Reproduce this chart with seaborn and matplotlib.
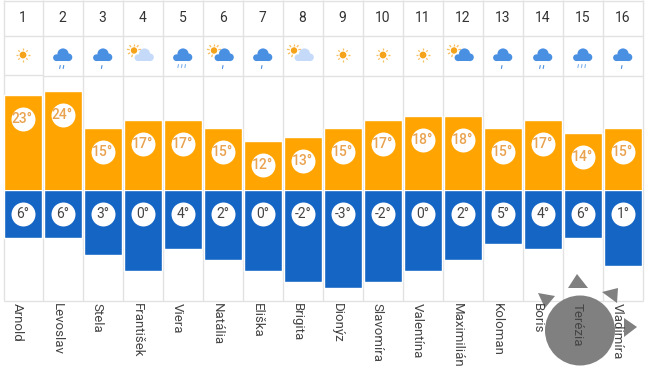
import numpy as np
import pandas as pd
import seaborn as sns
import matplotlib.pyplot as plt
from matplotlib.patches import Circle, Polygon, Rectangle
from matplotlib.transforms import ScaledTranslation

sns.set_theme(style="white")
plt.rcParams['font.family'] = ['Roboto', 'DejaVu Sans']

days = list(range(1, 17))
names = ["Arnold", "Levoslav", "Stela", "František", "Viera", "Natália", "Eliška", "Brigita",
         "Dionýz", "Slavomíra", "Valentína", "Maximilián", "Koloman", "Boris", "Terézia", "Vladimíra"]
highs = [23, 24, 15, 17, 17, 15, 12, 13, 15, 17, 18, 18, 15, 17, 14, 15]
lows = [6, 6, 3, 0, 4, 2, 0, -2, -3, -2, 0, 2, 5, 4, 6, 1]
icons = ["sun", "rain2", "rain1", "partly_light", "sleet", "partly_rain", "rain1", "partly_light",
         "sun", "sun", "sun", "partly_blue", "rain1", "rain2", "sleet", "rain1"]

W, H = 648, 377
ORANGE = "#FFA400"
BLUE = "#1565C4"
GRID = "#E2E2E2"
TEXT = "#444444"
CLOUD = "#4A90E2"
LIGHT = "#C4DAF8"
SUN = "#F5A31A"
LOW_BASE = 14.8   # the low bars hang from this value

def col_x(i):
    return 23 + 40 * i

def draw_sun(ax, x, y, r=3.4, rays=6.6, angles=None):
    ax.add_patch(Circle((x, y), r, fc=SUN, ec="none", zorder=4))
    if angles is None:
        angles = np.arange(0, 2 * np.pi, np.pi / 4)
    for a in angles:
        ax.plot([x + (r + 1.2) * np.cos(a), x + rays * np.cos(a)],
                [y + (r + 1.2) * np.sin(a), y + rays * np.sin(a)],
                color="#F8BE5E", lw=0.9, zorder=4, solid_capstyle="butt")

def draw_cloud(ax, x, y, color):
    for dx, dy, r in [(0.5, -2.5, 5.6), (-6, 1.2, 3.4), (6, 0.8, 3.8)]:
        ax.add_patch(Circle((x + dx, y + dy), r, fc=color, ec="none", zorder=5))
    ax.add_patch(Rectangle((x - 6, y - 1), 12, 5.6, fc=color, ec="none", zorder=5))

def draw_drops(ax, x, y, n, color=CLOUD):
    for k in range(n):
        dx = (k - (n - 1) / 2) * 3.5
        ax.plot([x + dx, x + dx - 0.6], [y, y + 3], color=color, lw=0.8, zorder=5)

def draw_icon(ax, kind, x):
    if kind == "sun":
        draw_sun(ax, x, 55)
    elif kind == "rain1":
        draw_cloud(ax, x - 0.5, 56.5, CLOUD)
        draw_drops(ax, x - 1, 65.5, 1)
    elif kind == "rain2":
        draw_cloud(ax, x - 0.5, 56.5, CLOUD)
        draw_drops(ax, x - 1, 65.5, 2)
    elif kind == "sleet":
        draw_cloud(ax, x - 0.5, 56.5, CLOUD)
        draw_drops(ax, x - 1, 64.5, 3, "#7FB2EC")
    else:
        upper = np.radians([110, 150, 190, 230, 270, 310, 350])
        draw_sun(ax, x - 9, 50.5, r=3.2, rays=7, angles=upper)
        color = LIGHT if kind == "partly_light" else CLOUD
        draw_cloud(ax, x + 1, 56.5, color)
        if kind == "partly_rain":
            draw_drops(ax, x, 65.5, 1)

fig = plt.figure(figsize=(W / 100, H / 100), dpi=100)

# background layer in picture pixels: cell lines, icons, grey blob
bg = fig.add_axes([0, 0, 1, 1], zorder=0)
bg.set_xlim(0, W)
bg.set_ylim(H, 0)
bg.axis("off")

edges = [3.5] + [42.5 + 40 * i for i in range(16)]
bg.vlines(edges, 0, 301, color=GRID, lw=1)
bg.hlines([0.5, 35.5, 300.5], 3.5, 642.5, color=GRID, lw=1)
bg.hlines(74.5, 3.5, 42.5, color=GRID, lw=1)
bg.hlines(75.5, 42.5, 642.5, color=GRID, lw=1)

for i, d in enumerate(days):
    bg.text(col_x(i) - 0.5, 18.5, str(d), ha="center", va="center", fontsize=10, color="#333333")
    draw_icon(bg, icons[i], col_x(i))

bg.add_patch(Circle((580, 330.5), 35, fc="#808080", ec="none", zorder=6))
for tri in [[(577, 274), (568, 288), (588, 288)],
            [(538, 293), (555, 296), (545, 308)],
            [(618, 288), (602, 292), (617, 303)],
            [(637, 327), (624, 318), (624, 337)]]:
    bg.add_patch(Polygon(tri, fc="#808080", ec="none", zorder=6))

df = pd.DataFrame({"name": names, "high": highs, "low": lows})
df["depth"] = LOW_BASE - df["low"]

left, width = 3 / W, 640 / W

# highs
ax_hi = fig.add_axes([left, 1 - 190 / H, width, 115 / H], zorder=2)
ax_hi.patch.set_alpha(0)
sns.barplot(data=df, x="name", y="high", color=ORANGE, saturation=1, width=0.965, ax=ax_hi)
ax_hi.set_xlim(-0.5, 15.5)
ax_hi.set_ylim(0.25, 0.25 + 115 / 4.17)
ax_hi.axis("off")

# lows
ax_lo = fig.add_axes([left, 1 - 301 / H, width, 111 / H], zorder=2)
ax_lo.patch.set_alpha(0)
sns.barplot(data=df, x="name", y="depth", color=BLUE, saturation=1, width=0.965, ax=ax_lo)
ax_lo.set_xlim(-0.5, 15.5)
ax_lo.set_ylim(111 / 5.5, 0)
ax_lo.set_xlabel("")
ax_lo.set_ylabel("")
ax_lo.set_yticks([])
sns.despine(ax=ax_lo, left=True, bottom=True)
ax_lo.tick_params(axis="x", length=0, pad=1.5)
ax_lo.set_xticks(range(len(names)))
ax_lo.set_xticklabels(names, rotation=270, ha="center", va="top", fontsize=9.5, color=TEXT)
shift = ScaledTranslation(-6 / 100, 0, fig.dpi_scale_trans)
for lab in ax_lo.get_xticklabels():
    lab.set_transform(lab.get_transform() + shift)

# value badges
xs = np.arange(len(days))
hi_offset = ax_hi.transData + ScaledTranslation(-0.5 / 100, -24 / 100, fig.dpi_scale_trans)
ax_hi.scatter(xs, highs, s=298, color="white", linewidths=0, transform=hi_offset, zorder=5, clip_on=False)
for x, v in zip(xs, highs):
    ax_hi.text(x, v, f"{v}°", ha="center", va="center", fontsize=10, color="#E9A24F",
               transform=hi_offset, zorder=6, fontweight="medium")

lo_trans = ax_lo.get_xaxis_transform()
lo_y = 1 - 24 / 111
ax_lo.scatter(xs, [lo_y] * len(xs), s=298, color="white", linewidths=0, transform=lo_trans, zorder=5)
for x, v in zip(xs, lows):
    ax_lo.text(x, lo_y, f"{v}°", ha="center", va="center", fontsize=10, color=TEXT,
               transform=lo_trans, zorder=6)

fig.savefig("out.png", dpi=100)
